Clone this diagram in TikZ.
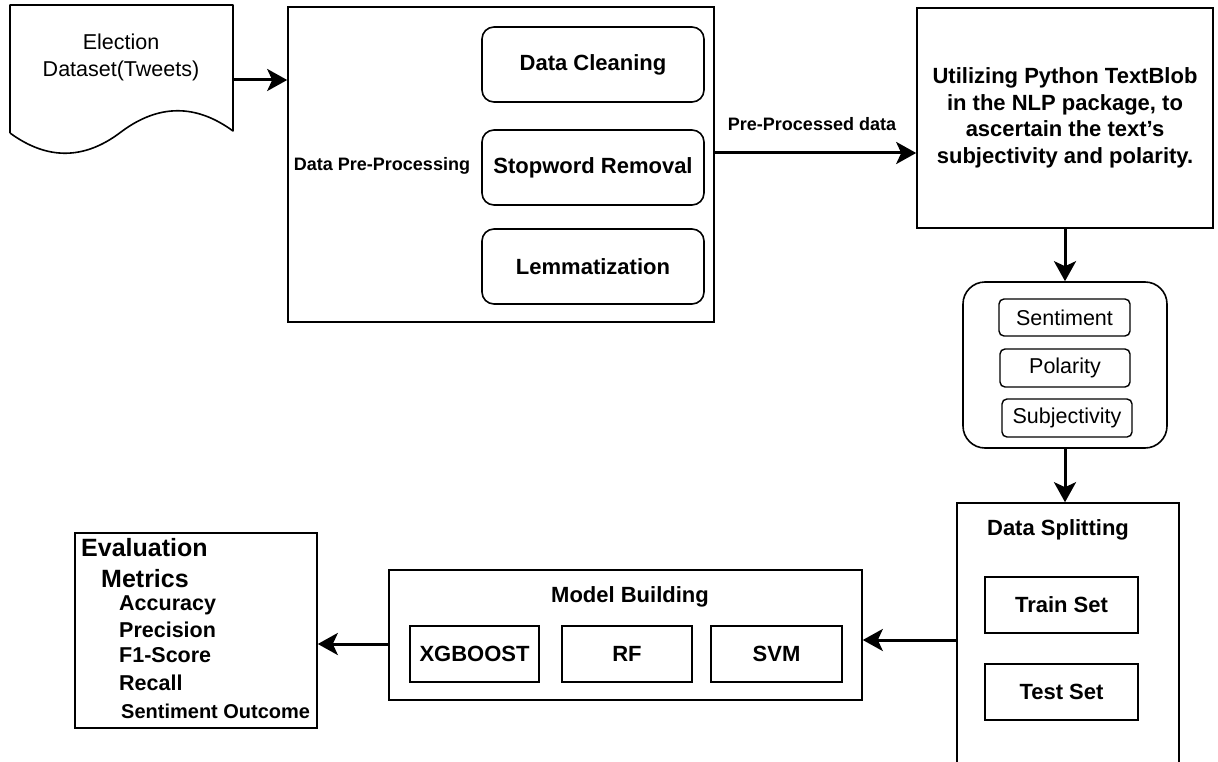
\documentclass[tikz,border=0pt]{standalone}
\usepackage{fontspec}
\setmainfont{Liberation Sans}
\usetikzlibrary{arrows.meta,calc}
\begin{document}
\begin{tikzpicture}[x=1pt,y=-1pt,
  box/.style={draw=black,line width=1.6pt,inner sep=0pt,align=center},
  rbox/.style={box,rounded corners=12pt},
  sbox/.style={box,rounded corners=5pt,line width=1.4pt},
  bigtxt/.style={font=\fontsize{22}{26.5}\selectfont\bfseries},
  regtxt/.style={font=\fontsize{21.5}{27}\selectfont},
  smalltxt/.style={font=\fontsize{18}{21}\selectfont\bfseries},
  evtxt/.style={anchor=west,inner sep=0pt,font=\fontsize{21.5}{25}\selectfont\bfseries},
  arr/.style={line width=3pt,-{Stealth[length=20pt,width=22pt,inset=5pt]}}]
\clip (0,0) rectangle (1218,762);
\fill[white] (0,0) rectangle (1218,762);
% document shape
\node[minimum width=223pt,minimum height=150pt,inner sep=0pt] (doc) at (121.5,80) {};
\draw[line width=1.6pt,line join=round] (10,133) -- (10,5) -- (233,5) -- (233,131)
  .. controls (195.7,103.7) and (158.3,104) .. (121,132)
  .. controls (84.3,160) and (47.3,160.3) .. (10,133);
\node[regtxt,align=center] (doctxt) at (121,57) {Election\\Dataset(Tweets)};
% pre-processing
\node[box,minimum width=426pt,minimum height=315pt] (pre) at (501,164.5) {};
\node[smalltxt] (prelbl) at (382,166) {Data Pre-Processing};
\node[rbox,bigtxt,minimum width=222pt,minimum height=75pt] (clean) at (593,64.5) {Data Cleaning};
\node[rbox,bigtxt,minimum width=222pt,minimum height=75pt] (stop) at (593,167.5) {Stopword Removal};
\node[rbox,bigtxt,minimum width=222pt,minimum height=75pt] (lemma) at (593,266.5) {Lemmatization};
% textblob
\node[box,bigtxt,minimum width=296pt,minimum height=220pt] (tb) at (1065,118)
  {Utilizing Python TextBlob\\in the NLP package, to\\ascertain the text's\\subjectivity and polarity.};
% sentiment group
\node[box,rounded corners=22pt,minimum width=204pt,minimum height=166pt] (grp) at (1065,365) {};
\node[sbox,regtxt,minimum width=131pt,minimum height=37pt] (sent) at (1064.5,317.5) {Sentiment};
\node[sbox,regtxt,minimum width=130pt,minimum height=38pt] (pol) at (1065,368) {Polarity};
\node[sbox,regtxt,minimum width=130pt,minimum height=38pt] (subj) at (1067,418) {Subjectivity};
% data splitting
\node[box,minimum width=222pt,minimum height=277pt] (split) at (1068,641.5) {};
\node[bigtxt] (splitlbl) at (1058,530) {Data Splitting};
\node[box,bigtxt,minimum width=153pt,minimum height=56pt] (train) at (1061.5,605) {Train Set};
\node[box,bigtxt,minimum width=153pt,minimum height=56pt] (test) at (1061.5,692) {Test Set};
% model building
\node[box,minimum width=473pt,minimum height=130pt] (model) at (625.5,635) {};
\node[bigtxt] (modellbl) at (630,597) {Model Building};
\node[box,bigtxt,minimum width=129pt,minimum height=56pt] (xgb) at (474.5,654) {XGBOOST};
\node[box,bigtxt,minimum width=130pt,minimum height=56pt] (rf) at (627,654) {RF};
\node[box,bigtxt,minimum width=131pt,minimum height=56pt] (svm) at (776.5,654) {SVM};
% evaluation
\node[box,minimum width=242pt,minimum height=195pt] (eval) at (196,630.5) {};
\node[evtxt,font=\fontsize{25}{28}\selectfont\bfseries] (ev1) at (81,548) {Evaluation};
\node[evtxt,font=\fontsize{25}{28}\selectfont\bfseries] (ev2) at (101,579) {Metrics};
\node[evtxt] (ev3) at (119,605) {Accuracy};
\node[evtxt] (ev4) at (119,630) {Precision};
\node[evtxt] (ev5) at (119,655) {F1-Score};
\node[evtxt] (ev6) at (119,683) {Recall};
\node[evtxt,font=\fontsize{20}{24}\selectfont\bfseries] (ev7) at (121,711) {Sentiment Outcome};
% connectors
\draw[arr] (doc.east) -- (doc.east -| pre.west);
\draw[arr] (pre.east |- 0,153) -- (tb.west |- 0,153);
\node[smalltxt] (pplbl) at (812,124) {Pre-Processed data};
\draw[arr] (tb.south) -- (grp.north);
\draw[arr] (grp.south) -- (grp.south |- split.north);
\draw[arr] (split.west |- 0,640) -- (model.east |- 0,640);
\draw[arr] (model.west |- 0,644) -- (eval.east |- 0,644);
\end{tikzpicture}
\end{document}
